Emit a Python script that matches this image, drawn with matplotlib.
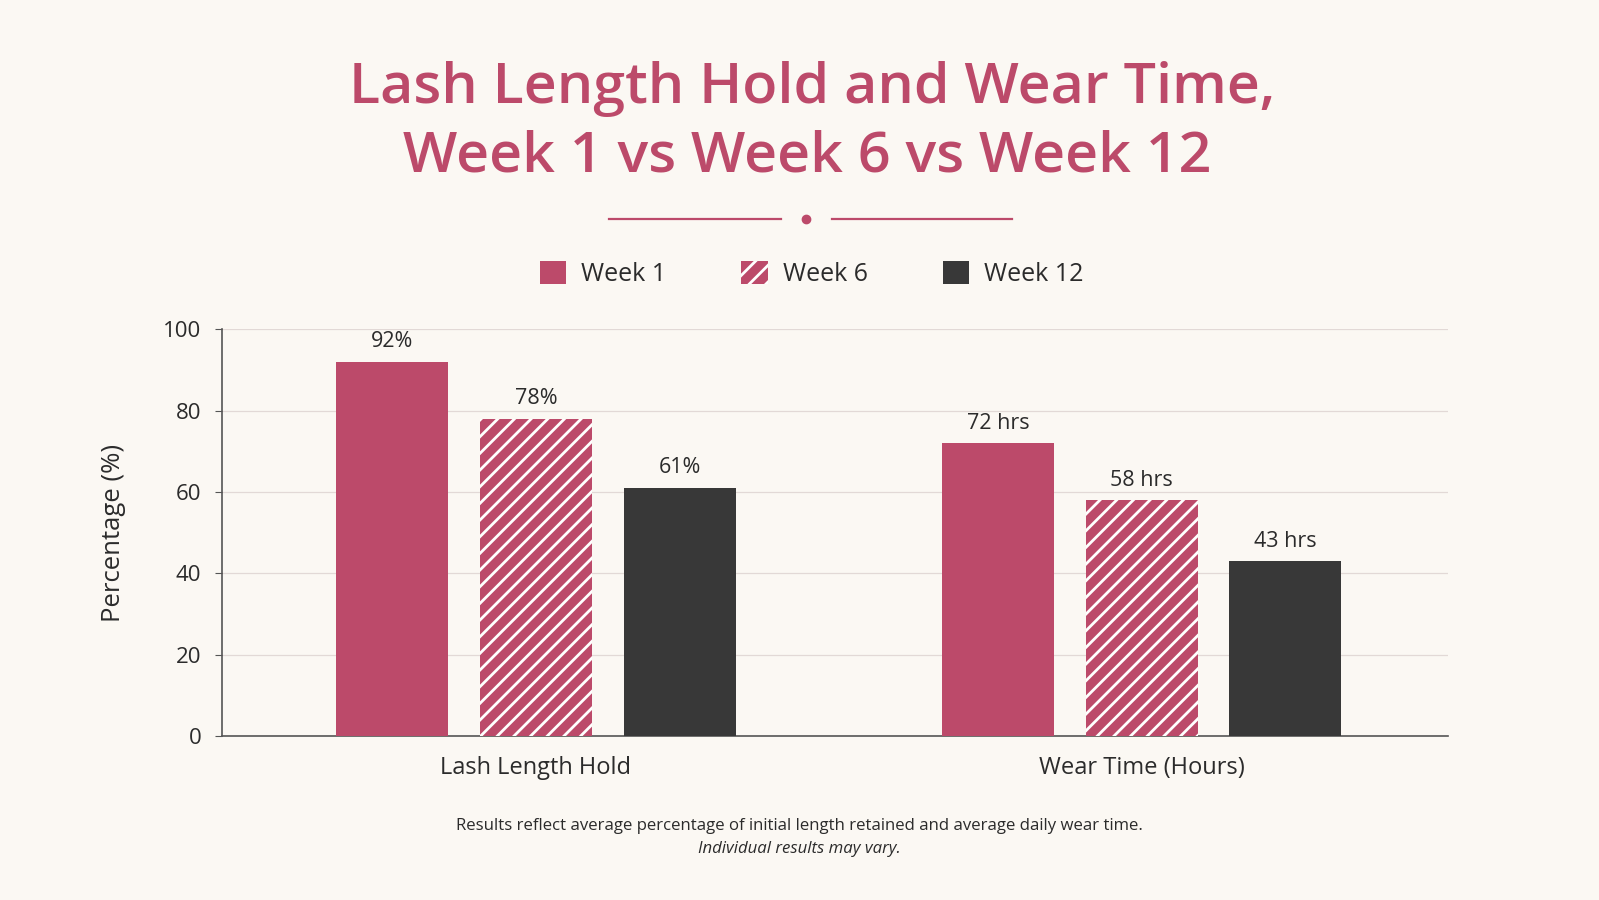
import matplotlib
matplotlib.use("Agg")
import matplotlib.pyplot as plt
import numpy as np
from matplotlib.patches import Patch
from matplotlib.lines import Line2D

# ---- data ----
categories = ["Lash Length Hold", "Wear Time (Hours)"]
series = ["Week 1", "Week 6", "Week 12"]
week1 = [92, 72]
week6 = [78, 58]
week12 = [61, 43]
labels_w1 = ["92%", "72 hrs"]
labels_w6 = ["78%", "58 hrs"]
labels_w12 = ["61%", "43 hrs"]

BG = "#FBF8F3"
PINK = "#BC4A6A"
DARK = "#383838"
TXT = "#2B2B2B"

plt.rcParams["font.family"] = ["Open Sans", "DejaVu Sans"]
plt.rcParams["hatch.linewidth"] = 2.0

fig = plt.figure(figsize=(15.99, 9.0), dpi=100)
fig.patch.set_facecolor(BG)
ax = fig.add_axes([0.139, 0.182, 0.7666, 0.452])
ax.set_facecolor(BG)

x = np.arange(len(categories))
off = 0.2374
w = 0.185
b1 = ax.bar(x - off, week1, w, color=PINK, linewidth=0, zorder=3)
b2 = ax.bar(x, week6, w, color=PINK, edgecolor="white", hatch="//", linewidth=0, zorder=3)
b3 = ax.bar(x + off, week12, w, color=DARK, linewidth=0, zorder=3)
for bars, labs in ((b1, labels_w1), (b2, labels_w6), (b3, labels_w12)):
    ax.bar_label(bars, labels=labs, padding=7, fontsize=15.5, color=TXT)

ax.set_xlim(-0.518, 1.506)
ax.set_ylim(0, 100)
ax.set_yticks([0, 20, 40, 60, 80, 100])
ax.set_xticks(x)
ax.set_xticklabels(categories, fontsize=17, color=TXT)
ax.tick_params(axis="x", length=0, pad=14)
ax.tick_params(axis="y", labelsize=16, labelcolor=TXT, color="#555555", length=5, pad=10)
ax.yaxis.grid(True, color="#E2D9D6", linewidth=0.9, zorder=0)
ax.set_axisbelow(True)
for s in ("top", "right"):
    ax.spines[s].set_visible(False)
for s in ("left", "bottom"):
    ax.spines[s].set_color("#555555")
    ax.spines[s].set_linewidth(1.2)
ax.set_ylabel("Percentage (%)", fontsize=18.5, color=TXT, labelpad=27)

# title
fig.text(0.508, 0.901, "Lash Length Hold and Wear Time,", ha="center", va="center",
         fontsize=41.3, color=PINK, fontweight="semibold")
fig.text(0.505, 0.825, "Week 1 vs Week 6 vs Week 12", ha="center", va="center",
         fontsize=41.3, color=PINK, fontweight="semibold")

# divider
fig.add_artist(Line2D([609 / 1599, 781 / 1599], [1 - 219 / 900] * 2, color=PINK, lw=1.6))
fig.add_artist(Line2D([832 / 1599, 1012 / 1599], [1 - 219 / 900] * 2, color=PINK, lw=1.6))
fig.add_artist(Line2D([806 / 1599], [1 - 219 / 900], marker="o", markersize=6, color=PINK, lw=0))

# legend
handles = [Patch(facecolor=PINK, linewidth=0),
           Patch(facecolor=PINK, edgecolor="white", hatch="//", linewidth=0),
           Patch(facecolor=DARK, linewidth=0)]
leg = fig.legend(handles, series, loc="center", bbox_to_anchor=(0.5077, 1 - 274 / 900), ncol=3,
                 frameon=False, fontsize=18, handlelength=1.05, handleheight=1.05,
                 handletextpad=0.6, columnspacing=3.0, labelcolor=TXT)

# footnote
fig.text(0.5, 1 - 826 / 900, "Results reflect average percentage of initial length retained and average daily wear time.",
         ha="center", va="center", fontsize=12.1, color=TXT)
fig.text(0.5, 1 - 849 / 900, "Individual results may vary.", ha="center", va="center",
         fontsize=12.1, color=TXT, style="italic")

fig.savefig("out.png", dpi=100, facecolor=BG)
